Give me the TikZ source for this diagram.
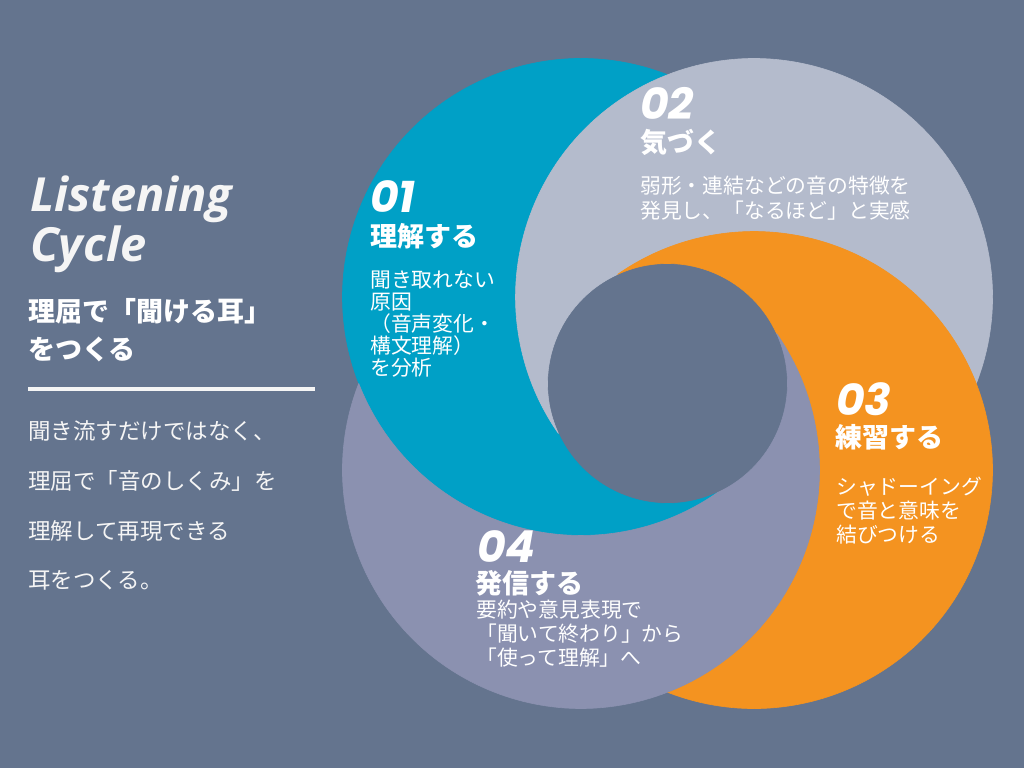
\documentclass[tikz,border=0pt]{standalone}
\usepackage{fontspec}
\newfontfamily\jpfont{Noto Sans CJK JP}
\newfontfamily\numfont{Poppins}
\newfontfamily\titlefont{Open Sans}
\definecolor{bgc}{RGB}{100,116,142}
\definecolor{cblue}{RGB}{0,160,198}
\definecolor{cgray}{RGB}{180,187,204}
\definecolor{corange}{RGB}{244,147,32}
\definecolor{clav}{RGB}{139,145,176}
\definecolor{txt}{RGB}{245,245,245}
\tikzset{
  numlbl/.style={anchor=base west, inner sep=0pt, text=white, font=\numfont\bfseries\itshape\fontsize{44}{44}\selectfont},
  headlbl/.style={anchor=west, inner sep=0pt, text=white, font=\jpfont\bfseries\fontsize{27}{27}\selectfont},
  bodylbl/.style={anchor=west, inner sep=0pt, text=white, font=\jpfont\fontsize{20.8}{20.8}\selectfont},
  leftbody/.style={anchor=west, inner sep=0pt, text=txt, font=\jpfont\fontsize{22.5}{22.5}\selectfont},
  titlelbl/.style={anchor=base west, inner sep=0pt, text=txt, font=\titlefont\bfseries\itshape\fontsize{47}{47}\selectfont},
  rulestyle/.style={draw=txt, line width=4pt},
  piece/.style={fill=#1, draw=#1, line width=0.6pt},
}
\begin{document}
\begin{tikzpicture}[x=1pt,y=1pt]
\useasboundingbox (0,0) rectangle (1024,768);
\fill[bgc] (0,0) rectangle (1024,768);
\coordinate (hc) at (667.5,384.5);
% four swirl pieces: each is one circle (r 238.5) cut by the next one and by the central hole (r 120)
\foreach \rot/\col in {0/cblue,-90/cgray,-180/corange,-270/clav}{
  \path[piece=\col, rotate around={\rot:(hc)}]
    (667.5,693.26) arc[start angle=68.74, end angle=304.91, radius=238.5]
    arc[start angle=294.62, end angle=204.62, radius=120]
    arc[start angle=214.91, end angle=111.26, radius=238.5] -- cycle;
}

% left panel
\node[titlelbl] (t1) at (30,556) {Listening};
\node[titlelbl] (t2) at (30,506) {Cycle};
\node[headlbl] (h0a) at (28,457) {理屈で「聞ける耳」};
\node[headlbl] (h0b) at (28,419) {をつくる};
\coordinate (r1) at (28,379);
\coordinate (r2) at (315,379);
\draw[rulestyle] (r1) -- (r2);
\node[leftbody] (l1) at (28,337) {聞き流すだけではなく、};
\node[leftbody] (l2) at (28,287) {理屈で「音のしくみ」を};
\node[leftbody] (l3) at (28,237) {理解して再現できる};
\node[leftbody] (l4) at (28,188) {耳をつくる。};

% 01
\node[numlbl] (n1) at (370,555) {01};
\node[headlbl] (h1) at (370,532) {理解する};
\node[bodylbl] (b1a) at (370,488) {聞き取れない};
\node[bodylbl] (b1b) at (370,466) {原因};
\node[bodylbl] (b1c) at (370,444) {（音声変化・};
\node[bodylbl] (b1d) at (370,422) {構文理解）};
\node[bodylbl] (b1e) at (370,400) {を分析};

% 02
\node[numlbl] (n2) at (640,648) {02};
\node[headlbl] (h2) at (640,626) {気づく};
\node[bodylbl] (b2a) at (640,582) {弱形・連結などの音の特徴を};
\node[bodylbl] (b2b) at (640,557) {発見し、「なるほど」と実感};

% 03
\node[numlbl] (n3) at (836,352) {03};
\node[headlbl] (h3) at (835,330.5) {練習する};
\node[bodylbl] (b3a) at (836,281) {シャドーイング};
\node[bodylbl] (b3b) at (836,257) {で音と意味を};
\node[bodylbl] (b3c) at (836,233) {結びつける};

% 04
\node[numlbl] (n4) at (477,205) {04};
\node[headlbl] (h4) at (475,185) {発信する};
\node[bodylbl] (b4a) at (476,158) {要約や意見表現で};
\node[bodylbl] (b4b) at (476,134) {「聞いて終わり」から};
\node[bodylbl] (b4c) at (476,110) {「使って理解」へ};
\end{tikzpicture}
\end{document}
